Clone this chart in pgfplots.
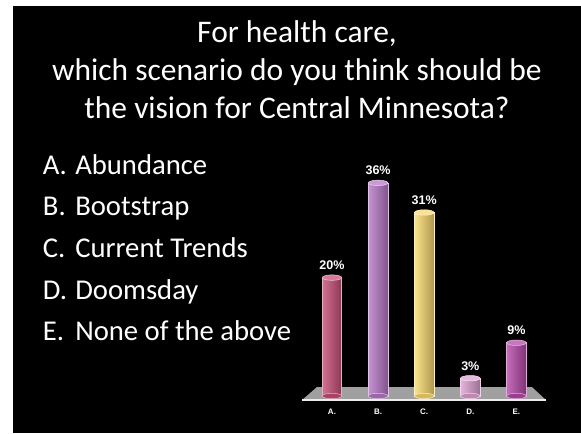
\documentclass[border=0pt]{standalone}
\usepackage{pgfplots}
\pgfplotsset{compat=1.18}
\usepackage{fontspec}
\setmainfont{Carlito}
\setsansfont{Liberation Sans}
\definecolor{cA}{RGB}{200,78,118}
\definecolor{cB}{RGB}{184,120,200}
\definecolor{cC}{RGB}{250,218,110}
\definecolor{cD}{RGB}{222,160,210}
\definecolor{cE}{RGB}{182,72,170}
\definecolor{floorgray}{RGB}{160,160,160}
\pgfplotsset{
  cyl/.style={ybar, bar width=14.6pt, bar shift=0pt, draw=#1!45!white, line width=0.4pt,
    left color=#1!80!white, middle color=#1, right color=#1!70!black,
    nodes near coords={\pgfmathprintnumber{\pgfplotspointmeta}\%}},
  cap/.style={only marks, mark=*, mark size=7.3pt,
    mark options={fill=#1!75!white, draw=#1!35!white, line width=0.4pt, yscale=0.28}},
  bot/.style={only marks, mark=*, mark size=7.3pt,
    mark options={fill=#1!85!black, draw=#1!45!white, line width=0.4pt, yscale=0.28}},
}
\begin{document}
\begin{tikzpicture}
\fill[white] (0,0) rectangle (435.75pt,324.75pt);
\fill[black] (9.75pt,0) rectangle (435.75pt,320.25pt);
\begin{scope}[every node/.style={white, inner sep=0pt, font=\fontsize{23.6}{28}\selectfont}]
\node[anchor=base] at (222.75pt,292.875pt) {For health care,};
\node[anchor=base] at (222.75pt,264.375pt) {which scenario do you think should be};
\node[anchor=base] at (222.75pt,235.875pt) {the vision for Central Minnesota?};
\end{scope}
\begin{scope}[every node/.style={white, inner sep=0pt, anchor=base west, font=\fontsize{21.5}{25}\selectfont}]
\node at (32pt,194.25pt) {A.};   \node at (56.25pt,194.25pt) {Abundance};
\node at (32pt,162.975pt) {B.};  \node at (56.25pt,162.975pt) {Bootstrap};
\node at (32pt,131.7pt) {C.};    \node at (56.25pt,131.7pt) {Current Trends};
\node at (32pt,100.5pt) {D.};    \node at (56.25pt,100.5pt) {Doomsday};
\node at (32pt,69.225pt) {E.};   \node at (56.25pt,69.225pt) {None of the above};
\end{scope}
\begin{axis}[
  anchor=south west, at={(231.7pt,27.75pt)},
  scale only axis, width=172.9pt, height=177.6pt,
  xmin=-0.5, xmax=4.5, ymin=0, ymax=40,
  clip=false,
  axis line style={draw=none}, tick style={draw=none},
  ytick=\empty,
  xtick={0,1,2,3,4}, xticklabels={A.,B.,C.,D.,E.},
  xticklabel style={white, font=\sffamily\bfseries\fontsize{6}{7}\selectfont, anchor=base, yshift=-13.5pt},
  /pgf/number format/assume math mode=true,
  every node near coord/.append style={white, font=\sffamily\bfseries\fontsize{9.4}{11}\selectfont, anchor=base, yshift=6pt},
]
% floor
\addplot[fill=floorgray, draw=none] coordinates {(-0.325,1.52) (4.336,1.52) (4.64,-0.676) (-0.65,-0.676)} --cycle;
\addplot[draw=white!85!gray, line width=0.8pt] coordinates {(-0.65,-0.676) (4.64,-0.676)};
% bottoms
\addplot[bot=cA] coordinates {(0,0)};
\addplot[bot=cB] coordinates {(1,0)};
\addplot[bot=cC] coordinates {(2,0)};
\addplot[bot=cD] coordinates {(3,0)};
\addplot[bot=cE] coordinates {(4,0)};
% bars
\addplot[cyl=cA] coordinates {(0,20)};
\addplot[cyl=cB] coordinates {(1,36)};
\addplot[cyl=cC] coordinates {(2,31)};
\addplot[cyl=cD] coordinates {(3,3)};
\addplot[cyl=cE] coordinates {(4,9)};
% caps
\addplot[cap=cA] coordinates {(0,20)};
\addplot[cap=cB] coordinates {(1,36)};
\addplot[cap=cC] coordinates {(2,31)};
\addplot[cap=cD] coordinates {(3,3)};
\addplot[cap=cE] coordinates {(4,9)};
\end{axis}
\end{tikzpicture}
\end{document}
